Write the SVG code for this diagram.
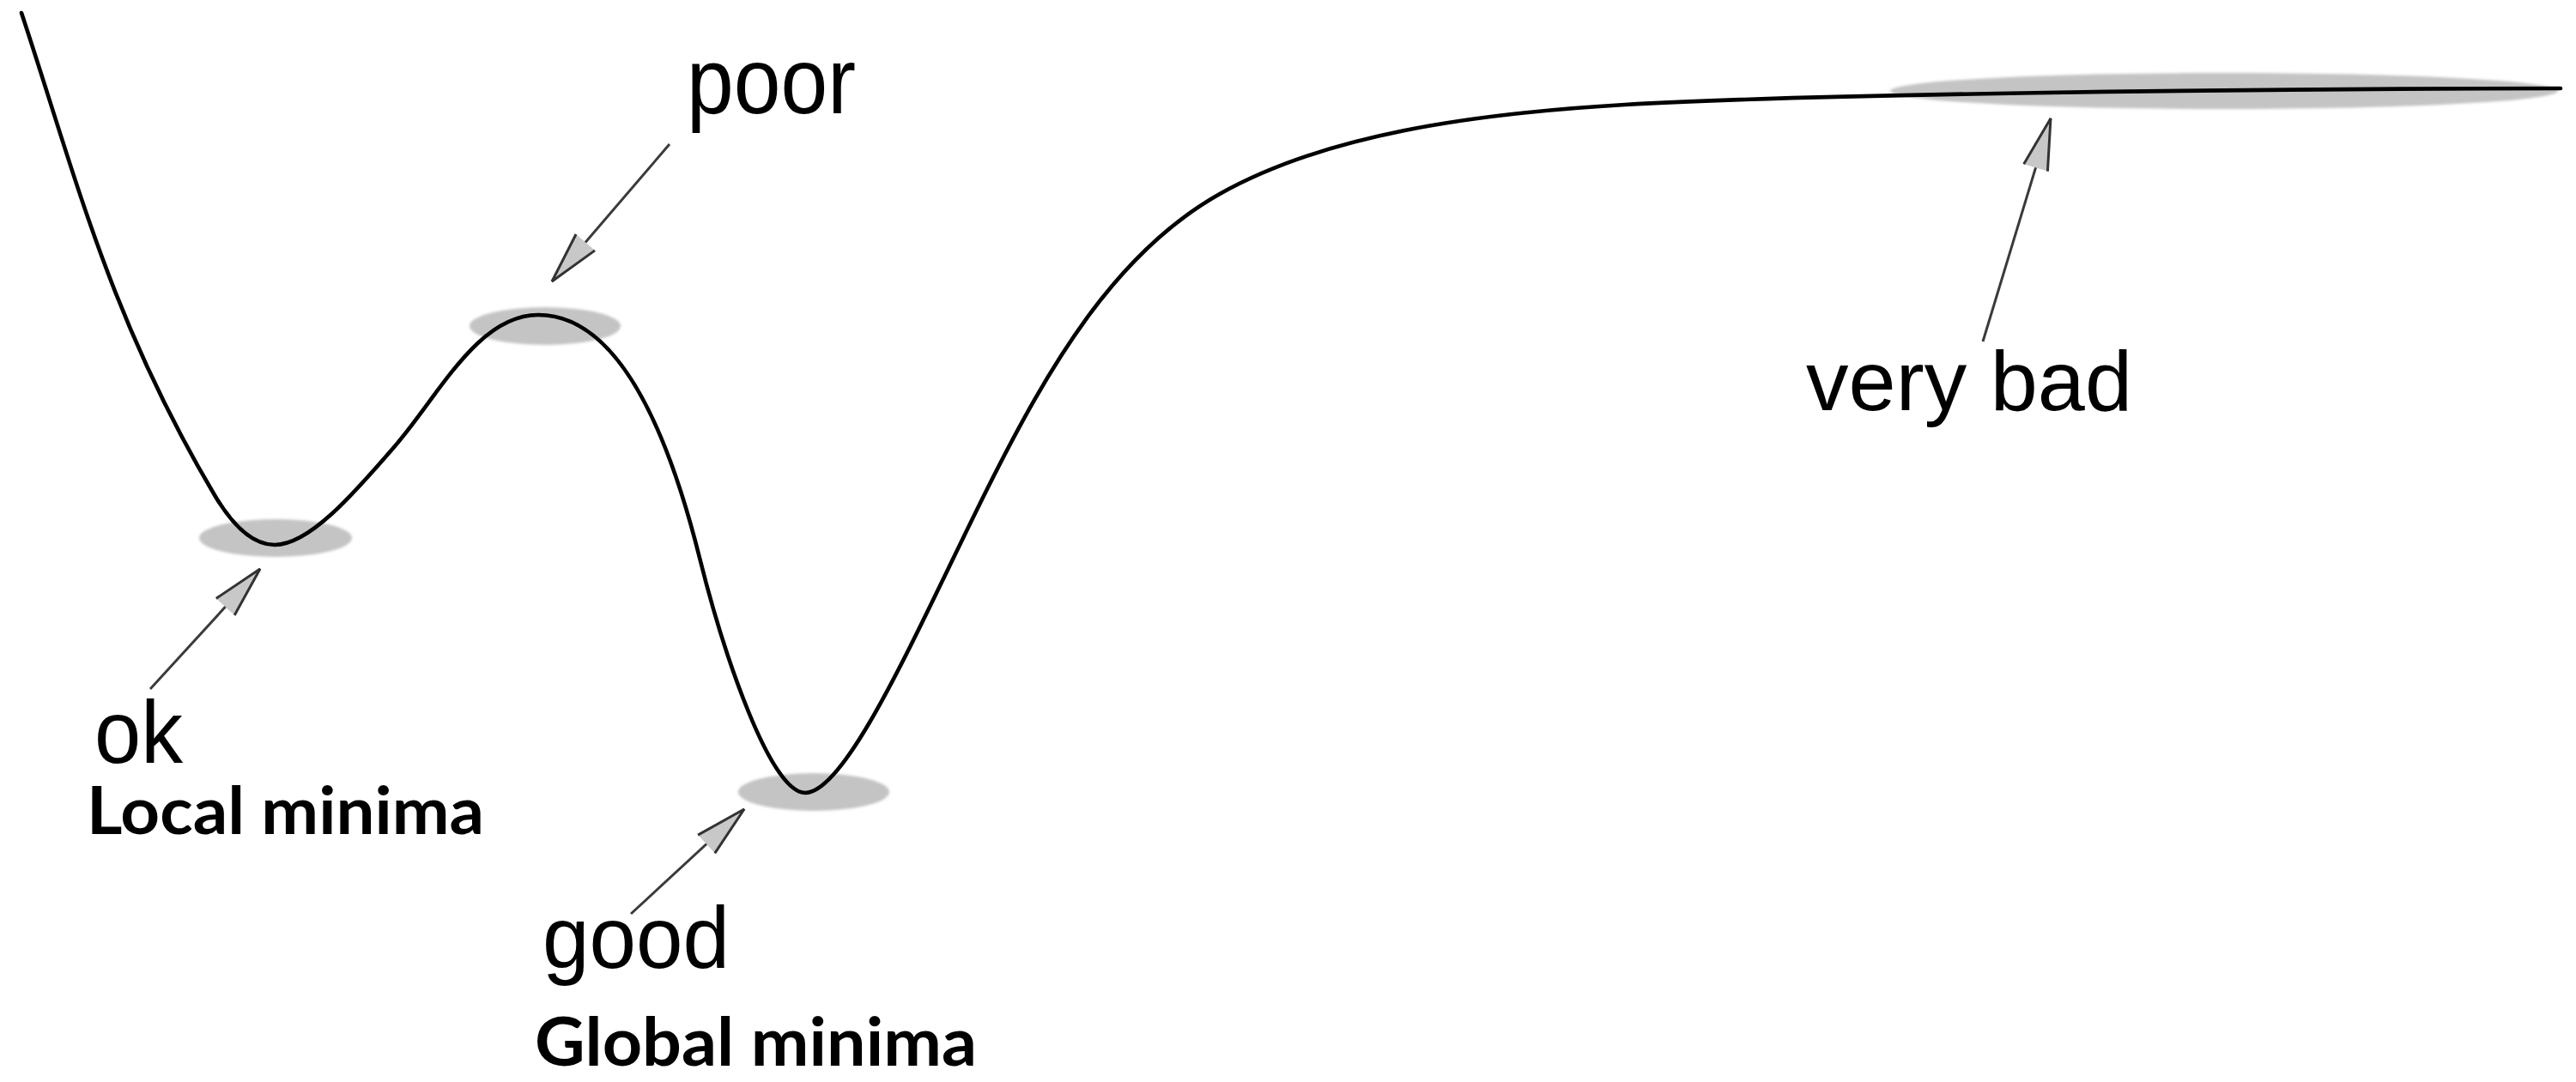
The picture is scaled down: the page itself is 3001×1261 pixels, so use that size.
<svg xmlns="http://www.w3.org/2000/svg" width="3001" height="1261" viewBox="0 0 3001 1261">
<style>
.hl{fill:#c4c4c4;filter:url(#soft)}
.curve{fill:none;stroke:#000;stroke-width:4.6;stroke-linecap:round;stroke-linejoin:round}
.shaft{fill:none;stroke:#3a3a3a;stroke-width:3;marker-end:url(#head)}
.lbl{font-family:"Liberation Sans",Arial,sans-serif;fill:#000}
.bold{font-family:Lato,"Open Sans",sans-serif;font-weight:700;fill:#000}
</style>
<defs>
<filter id="soft" x="-10%" y="-50%" width="120%" height="200%"><feGaussianBlur stdDeviation="1.6"/></filter>
<marker id="head" markerUnits="userSpaceOnUse" markerWidth="80" markerHeight="40" refX="0" refY="0" viewBox="-70 -20 80 40" orient="auto" overflow="visible">
<path d="M-60,-14.5 L0,0 L-60,14.5 Z" fill="#c8c8c8" stroke="none"/>
<path d="M-60,-14.5 L0,0 L-60,14.5" fill="none" stroke="#333" stroke-width="3"/>
</marker>
</defs>
<rect width="3001" height="1261" fill="#fff"/>
<g id="highlights">
<ellipse id="hl-local" class="hl" cx="321" cy="627" rx="89" ry="22"/>
<ellipse id="hl-peak" class="hl" cx="635" cy="380" rx="88" ry="22"/>
<ellipse id="hl-global" class="hl" cx="948" cy="923" rx="88" ry="22"/>
<ellipse id="hl-plateau" class="hl" cx="2591" cy="106" rx="389" ry="21"/>
</g>
<g id="curve">
<path class="curve" d="M25,15 C88,205 127.6,370.6 250,577 C273,615.7 296.3,635 320,635 C360,635 411,576.8 460,520 C512,459.4 557,367 627,367 C727,367 783.4,523.9 815,650 C844,766 898,924 938,924 C988,924 1074,722 1150,570 C1221.5,427 1299,294.6 1421,226 C1543,157.4 1713,132.6 1893,122 C2093,110.2 2600,103.5 2983,103"/>
</g>
<g id="connectors">
<path id="arrow-poor" class="shaft" d="M780,168 L643,328"/>
<path id="arrow-ok" class="shaft" d="M175,803 L303,663"/>
<path id="arrow-good" class="shaft" d="M735,1065 L867,943"/>
<path id="arrow-verybad" class="shaft" d="M2310,398 L2389,138"/>
</g>
<g id="node-poor">
<text class="lbl" x="800" y="132" font-size="110" textLength="197" lengthAdjust="spacingAndGlyphs">poor</text>
</g>
<g id="node-ok">
<text class="lbl" x="110" y="889" font-size="104" textLength="103" lengthAdjust="spacingAndGlyphs">ok</text>
<text class="bold" x="101" y="972" font-size="77" textLength="463" lengthAdjust="spacingAndGlyphs">Local minima</text>
</g>
<g id="node-good">
<text class="lbl" x="632" y="1128" font-size="102" textLength="218" lengthAdjust="spacingAndGlyphs">good</text>
<text class="bold" x="623" y="1242" font-size="79" textLength="515" lengthAdjust="spacingAndGlyphs">Global minima</text>
</g>
<g id="node-verybad">
<text class="lbl" x="2104" y="478" font-size="98" textLength="380" lengthAdjust="spacingAndGlyphs">very bad</text>
</g>
</svg>
